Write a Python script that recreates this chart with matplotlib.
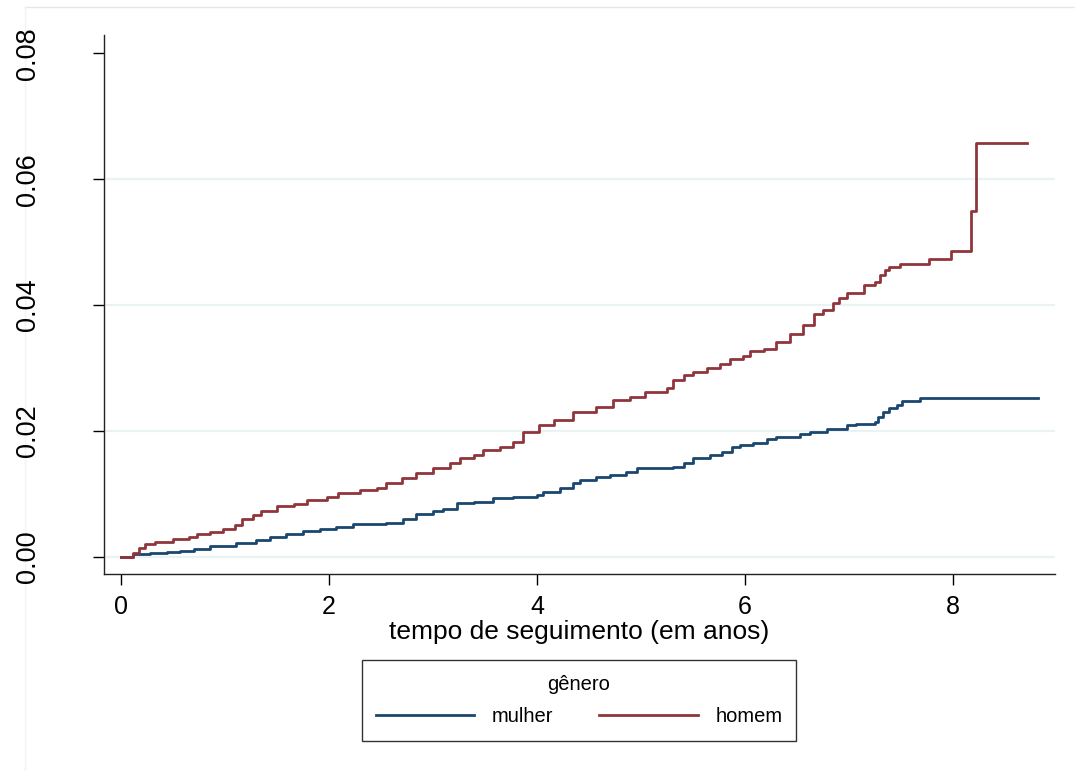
import matplotlib
matplotlib.use("Agg")
import matplotlib.pyplot as plt
from matplotlib.lines import Line2D

# cumulative incidence (Kaplan-Meier 1-S) by gender
t_mulher = [0, 0.12, 0.28, 0.44, 0.57, 0.7, 0.86, 1.11, 1.3, 1.43, 1.59, 1.75, 1.91,
            2.07, 2.23, 2.55, 2.71, 2.84, 3.0, 3.1, 3.23, 3.39, 3.58, 3.77, 4.0, 4.06,
            4.22, 4.35, 4.41, 4.57, 4.7, 4.86, 4.96, 5.31, 5.41, 5.5, 5.66, 5.78, 5.87,
            5.95, 6.08, 6.21, 6.3, 6.53, 6.62, 6.79, 6.98, 7.07, 7.25, 7.28, 7.33, 7.38,
            7.46, 7.51, 7.68, 8.82]
v_mulher = [0, 0.0005, 0.0007, 0.0008, 0.001, 0.0013, 0.0017, 0.0022, 0.0027, 0.0032,
            0.0037, 0.0041, 0.0044, 0.0048, 0.0053, 0.0054, 0.0061, 0.0068, 0.0073,
            0.0077, 0.0085, 0.0088, 0.0093, 0.0096, 0.0098, 0.0104, 0.0109, 0.0117,
            0.0122, 0.0127, 0.013, 0.0135, 0.0141, 0.0143, 0.0149, 0.0157, 0.0162,
            0.0167, 0.0174, 0.0178, 0.0181, 0.0187, 0.019, 0.0196, 0.0199, 0.0203,
            0.021, 0.0212, 0.0215, 0.0223, 0.0231, 0.0236, 0.0241, 0.0248, 0.0252, 0.0252]

t_homem = [0, 0.12, 0.17, 0.23, 0.33, 0.5, 0.65, 0.73, 0.86, 0.98, 1.1, 1.16, 1.27, 1.35,
           1.5, 1.66, 1.79, 1.98, 2.09, 2.3, 2.46, 2.55, 2.7, 2.84, 3.0, 3.16, 3.26, 3.39,
           3.48, 3.64, 3.77, 3.87, 4.02, 4.16, 4.35, 4.57, 4.73, 4.89, 5.04, 5.25, 5.31,
           5.41, 5.5, 5.63, 5.76, 5.86, 5.98, 6.05, 6.18, 6.3, 6.43, 6.56, 6.66, 6.75,
           6.85, 6.9, 6.98, 7.14, 7.25, 7.3, 7.35, 7.38, 7.49, 7.77, 7.98, 8.17, 8.22, 8.71]
v_homem = [0, 0.0006, 0.0014, 0.0021, 0.0024, 0.0028, 0.0031, 0.0036, 0.004, 0.0044,
           0.0051, 0.006, 0.0067, 0.0073, 0.0081, 0.0084, 0.009, 0.0095, 0.0102, 0.0107,
           0.0109, 0.0118, 0.0126, 0.0133, 0.0141, 0.0149, 0.0157, 0.0162, 0.017, 0.0175,
           0.0183, 0.0199, 0.021, 0.0218, 0.023, 0.0238, 0.0249, 0.0254, 0.0262, 0.0269,
           0.0281, 0.0289, 0.0294, 0.03, 0.0307, 0.0315, 0.0319, 0.0327, 0.0331, 0.0342,
           0.0354, 0.0368, 0.0386, 0.0392, 0.0403, 0.0411, 0.042, 0.0432, 0.0437, 0.0448,
           0.0456, 0.0461, 0.0466, 0.0473, 0.0486, 0.055, 0.0658, 0.0658]

x_ticks = [0, 2, 4, 6, 8]
y_ticks = [0.00, 0.02, 0.04, 0.06, 0.08]
y_ticklabels = ["0.00", "0.02", "0.04", "0.06", "0.08"]

NAVY = "#1a476f"
MAROON = "#90353b"
GRID = "#eaf2f3"

plt.rcParams["font.family"] = ["Liberation Sans", "DejaVu Sans"]

fig = plt.figure(figsize=(10.75, 7.71), dpi=100)
ax = fig.add_axes([0.0967, 0.2555, 0.8847, 0.6991])

for y in y_ticks[:-1]:
    ax.axhline(y, color=GRID, lw=1.6, zorder=0)

ax.plot(t_mulher, v_mulher, drawstyle="steps-post", color=NAVY, lw=2.0, label="mulher")
ax.plot(t_homem, v_homem, drawstyle="steps-post", color=MAROON, lw=2.0, label="homem")

ax.set_xlim(-0.163, 8.98)
ax.set_ylim(-0.0027, 0.0829)
ax.set_xticks(x_ticks)
ax.set_yticks(y_ticks)
ax.set_yticklabels(y_ticklabels)
ax.tick_params(axis="x", direction="out", length=8, width=1, pad=7, labelsize=18)
ax.tick_params(axis="y", direction="out", length=8, width=1, pad=37, labelsize=19.5,
               labelrotation=90)
for lbl in ax.get_yticklabels():
    lbl.set_va("center")
for side in ("top", "right"):
    ax.spines[side].set_visible(False)
for side in ("left", "bottom"):
    ax.spines[side].set_linewidth(1.0)
    ax.spines[side].set_color("#222222")

ax.set_xlabel("tempo de seguimento (em anos)", fontsize=19, labelpad=1)

leg = ax.legend(title="gênero", ncol=2, loc="center",
                bbox_to_anchor=(0.5386, 0.0914), bbox_transform=fig.transFigure,
                fontsize=14.5, title_fontsize=14.5, frameon=True, fancybox=False,
                edgecolor="black", handlelength=4.9, handletextpad=0.85,
                columnspacing=2.3, borderpad=0.7, labelspacing=0.3)
leg.get_frame().set_linewidth(1.0)
leg._legend_box.sep = 10

# faint outer graph-region border
y_top = 1 - 7 / 771
x_left = 25 / 1075
fig.add_artist(Line2D([x_left, 1.0], [y_top, y_top], transform=fig.transFigure,
                      color="#e6e6e6", lw=1, zorder=-1))
fig.add_artist(Line2D([x_left, x_left], [0.0, y_top], transform=fig.transFigure,
                      color="#f3f3f3", lw=1, zorder=-1))

fig.savefig("out.png", dpi=100)
